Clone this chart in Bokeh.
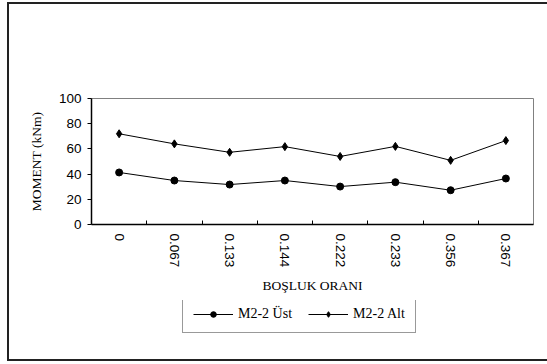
from bokeh.plotting import figure
from bokeh.models import FixedTicker, Legend, LegendItem, Range1d, Column
from bokeh.embed import file_html
from bokeh.resources import INLINE

categories = ["0", "0.067", "0.133", "0.144", "0.222", "0.233", "0.356", "0.367"]
ust = [41.3, 34.9, 31.7, 34.9, 30.1, 33.6, 27.2, 36.5]
alt = [72.0, 64.0, 57.3, 61.8, 54.0, 62.0, 50.9, 66.6]
series_names = ["M2-2 Üst", "M2-2 Alt"]
y_ticks = [0, 20, 40, 60, 80, 100]

xs = [i + 0.5 for i in range(len(categories))]

p = figure(width=538, height=296, output_backend="svg", toolbar_location=None,
           x_range=Range1d(0, len(categories)), y_range=Range1d(0, 100),
           min_border_left=82, min_border_right=14, min_border_top=94,
           min_border_bottom=76)
p.background_fill_color = "white"
p.border_fill_color = "white"
p.outline_line_color = "#808080"
p.outline_line_width = 1
p.xgrid.visible = False
p.ygrid.visible = False

# x axis
xa = p.xaxis[0]
xa.ticker = FixedTicker(ticks=xs, minor_ticks=list(range(1, len(categories))))
xa.major_label_overrides = {x: c for x, c in zip(xs, categories)}
xa.major_label_orientation = "vertical"
xa.major_tick_in = 0
xa.major_tick_out = 0
xa.minor_tick_in = 4
xa.minor_tick_out = 0
xa.minor_tick_line_color = "black"
xa.axis_line_color = "black"
xa.axis_line_width = 1.5
xa.major_label_text_font = "Liberation Sans"
xa.major_label_text_font_size = "13.5px"
xa.major_label_text_color = "black"
xa.major_label_standoff = 9
xa.axis_label = "BOŞLUK ORANI"
xa.axis_label_text_font = "Liberation Serif"
xa.axis_label_text_font_style = "normal"
xa.axis_label_text_font_size = "13.5px"
xa.axis_label_text_color = "black"
xa.axis_label_standoff = 8

# y axis
ya = p.yaxis[0]
ya.ticker = FixedTicker(ticks=y_ticks)
ya.minor_tick_line_color = None
ya.major_tick_in = 0
ya.major_tick_out = 4
ya.major_tick_line_color = "black"
ya.axis_line_color = "black"
ya.axis_line_width = 1.5
ya.major_label_text_font = "Liberation Sans"
ya.major_label_text_font_size = "13.5px"
ya.major_label_text_color = "black"
ya.major_label_standoff = 6
ya.axis_label = "MOMENT (kNm)"
ya.axis_label_text_font = "Liberation Serif"
ya.axis_label_text_font_style = "normal"
ya.axis_label_text_font_size = "13.5px"
ya.axis_label_text_color = "black"
ya.axis_label_standoff = 12

p.line(xs, ust, line_color="black", line_width=1)
p.scatter(xs, ust, marker="circle", size=7, fill_color="black", line_color="black")
p.line(xs, alt, line_color="black", line_width=1)
p.scatter(xs, alt, marker="diamond", size=8, fill_color="black", line_color="black")

# legend strip below the chart (its series lie outside its own ranges, so only
# the legend samples show)
lf = figure(width=538, height=59, output_backend="svg", toolbar_location=None,
            x_axis_location=None, y_axis_location=None,
            x_range=Range1d(-100, -99), y_range=Range1d(-100, -99),
            min_border_left=44, min_border_right=0,
            min_border_top=0, min_border_bottom=0)
lf.grid.visible = False
lf.outline_line_color = None
lf.border_fill_color = "white"
lr1 = lf.line(xs, ust, line_color="black", line_width=1)
ls1 = lf.scatter(xs, ust, marker="circle", size=6, fill_color="black", line_color="black")
lr2 = lf.line(xs, alt, line_color="black", line_width=1)
ls2 = lf.scatter(xs, alt, marker="diamond", size=7, fill_color="black", line_color="black")

legend = Legend(items=[LegendItem(label=series_names[0], renderers=[lr1, ls1]),
                       LegendItem(label=series_names[1], renderers=[lr2, ls2])],
                orientation="horizontal", location=(91, 26))
legend.label_text_font = "Liberation Serif"
legend.label_text_font_size = "14px"
legend.label_text_color = "black"
legend.border_line_color = "#333333"
legend.border_line_width = 1
legend.background_fill_alpha = 1
legend.glyph_width = 40
legend.glyph_height = 14
legend.label_standoff = 5
legend.spacing = 16
legend.padding = 10
legend.margin = 0
lf.add_layout(legend, "center")

layout = Column(children=[p, lf], spacing=0,
                styles={"margin-left": "7px", "margin-top": "2px",
                        "border-left": "2px solid #222", "border-top": "2px solid #222",
                        "border-bottom": "2px solid #222"})

open("out.html", "w").write(file_html(layout, INLINE))
